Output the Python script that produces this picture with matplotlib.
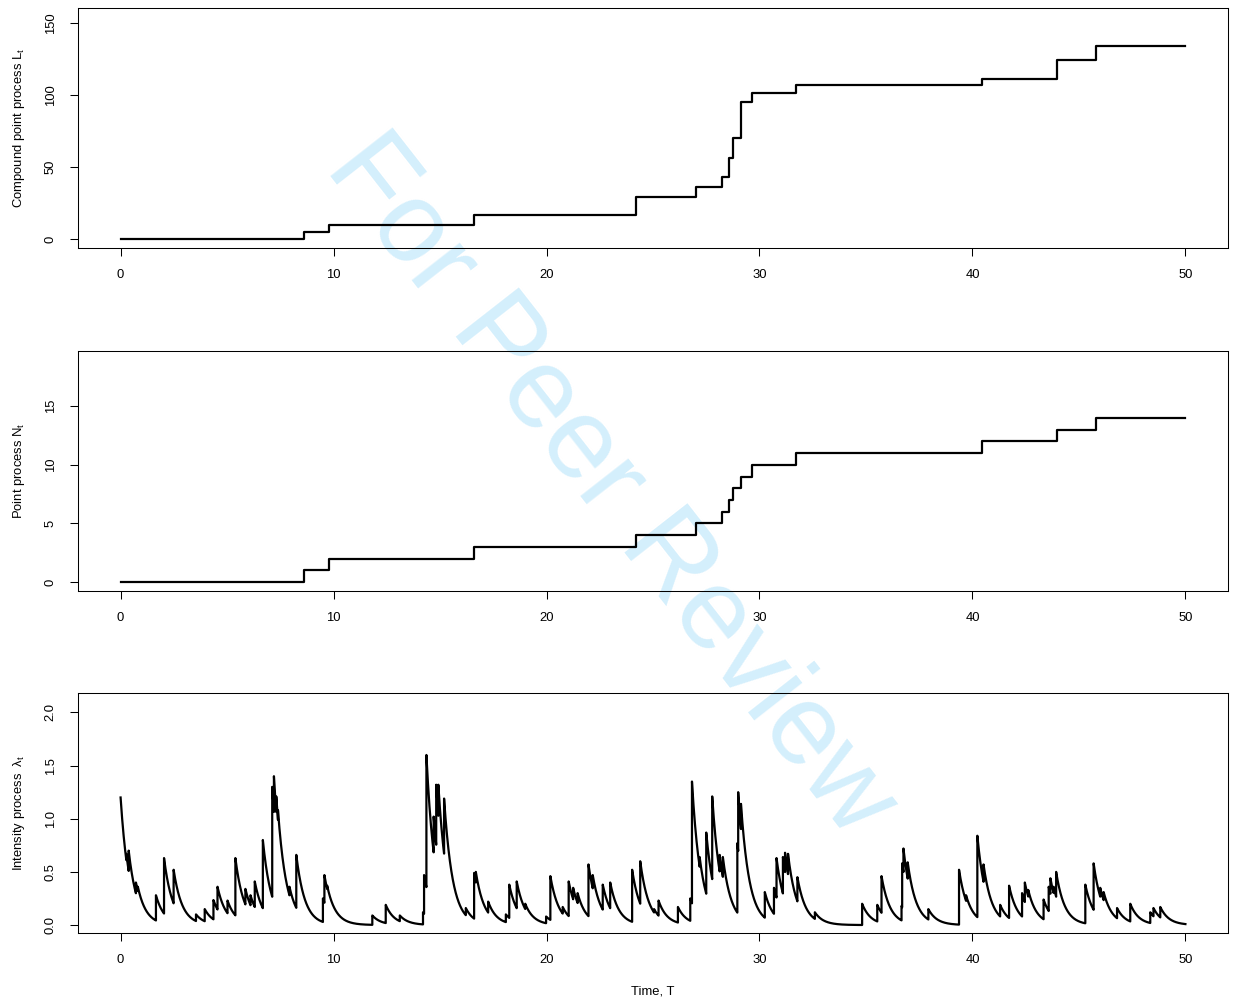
import numpy as np
import matplotlib
matplotlib.use("Agg")
import matplotlib.pyplot as plt

plt.rcParams['font.family'] = ['Liberation Sans', 'DejaVu Sans']
plt.rcParams['mathtext.fontset'] = 'custom'
plt.rcParams['mathtext.rm'] = 'Liberation Sans'
plt.rcParams['mathtext.it'] = 'Liberation Sans'

# ---------------- data ----------------
T_END = 50.0
# jump times of the point process N_t
event_times = [8.6, 9.8, 16.6, 24.2, 27.03, 28.22, 28.58, 28.74, 29.12, 29.65,
               31.73, 40.45, 43.98, 45.8]
# compound process L_t levels after each event
L_levels = [5, 10, 17, 29, 36, 43, 56, 70, 95, 101, 107, 111, 124, 134]
# point process N_t levels after each event
N_levels = list(range(1, 15))

# intensity process: initial value, decay rate, jump times and post-jump levels
lambda0 = 1.20
decay = 2.5
lam_jump_times = [0.27, 0.38, 0.72, 0.81, 1.66, 2.04, 2.49, 3.54, 3.95, 4.36,
                  4.55, 5.02, 5.39, 5.86, 6.10, 6.30, 6.68, 7.12, 7.20, 7.31,
                  7.39, 7.93, 8.25, 9.50, 9.57, 9.70, 11.82, 12.45, 13.11, 14.20,
                  14.25, 14.36, 14.70, 14.82, 14.92, 15.19, 16.21, 16.60, 16.68, 17.26,
                  18.09, 18.25, 18.60, 19.00, 19.98, 20.18, 20.76, 21.04, 21.25, 21.46,
                  21.97, 22.17, 22.64, 22.99, 24.02, 24.40, 25.05, 25.26, 26.17, 26.75,
                  26.83, 27.19, 27.50, 27.78, 28.13, 28.28, 28.96, 29.00, 29.13, 30.25,
                  30.68, 30.80, 31.10, 31.20, 31.34, 31.78, 32.60, 34.82, 35.53, 35.73,
                  36.67, 36.70, 36.76, 36.96, 37.93, 39.37, 39.70, 40.23, 40.52, 41.30,
                  41.72, 42.33, 42.46, 42.62, 43.34, 43.58, 43.66, 43.81, 43.93, 45.30,
                  45.69, 46.00, 46.16, 46.79, 47.41, 48.35, 48.50, 48.82]
lam_post_levels = [0.67, 0.70, 0.40, 0.36, 0.28, 0.63, 0.52, 0.10, 0.15, 0.235,
                   0.36, 0.23, 0.63, 0.34, 0.28, 0.41, 0.80, 1.30, 1.40, 1.21,
                   1.08, 0.36, 0.66, 0.25, 0.47, 0.37, 0.09, 0.19, 0.09, 0.12,
                   0.47, 1.60, 1.02, 1.32, 1.32, 1.19, 0.16, 0.49, 0.50, 0.22,
                   0.10, 0.38, 0.41, 0.20, 0.08, 0.46, 0.17, 0.41, 0.35, 0.30,
                   0.57, 0.47, 0.38, 0.40, 0.52, 0.60, 0.15, 0.23, 0.17, 0.25,
                   1.35, 0.64, 0.87, 1.21, 0.66, 0.64, 0.77, 1.25, 1.14, 0.31,
                   0.35, 0.63, 0.64, 0.68, 0.67, 0.45, 0.12, 0.20, 0.19, 0.46,
                   0.18, 0.58, 0.72, 0.59, 0.15, 0.52, 0.28, 0.84, 0.57, 0.19,
                   0.37, 0.30, 0.40, 0.33, 0.24, 0.36, 0.44, 0.36, 0.50, 0.38,
                   0.58, 0.35, 0.31, 0.16, 0.20, 0.12, 0.16, 0.17]

x_ticks = [0, 10, 20, 30, 40, 50]
L_ticks = [0, 50, 100, 150]
N_ticks = [0, 5, 10, 15]
lam_ticks = [0.0, 0.5, 1.0, 1.5, 2.0]

# ---------------- build paths ----------------
step_t = np.concatenate([[0.0], event_times, [T_END]])
L_y = np.concatenate([[0], L_levels, [L_levels[-1]]])
N_y = np.concatenate([[0], N_levels, [N_levels[-1]]])

starts = [0.0] + lam_jump_times
levels = [lambda0] + lam_post_levels
ends = lam_jump_times + [T_END]
lt, ly = [], []
for s, e, v in zip(starts, ends, levels):
    tt = np.linspace(s, e, max(int((e - s) * 60), 3))
    lt.append(tt)
    ly.append(v * np.exp(-decay * (tt - s)))
lam_t = np.concatenate(lt)
lam_y = np.concatenate(ly)

# ---------------- figure ----------------
W, H = 1233, 1002
fig = plt.figure(figsize=(W / 100, H / 100), dpi=100)

left = 78 / W
width = 1150 / W
hgt = 240 / H
bottoms = [(H - 248) / H, (H - 591) / H, (H - 933) / H]

fig.text(610 / W, 1 - 487 / H, "For Peer Review", rotation=-52,
         rotation_mode='anchor', ha='center', va='center',
         fontsize=82.5, color='#d4effc', zorder=-5)

axes = [fig.add_axes([left, b, width, hgt]) for b in bottoms]

fs = 9.4
lw = 1.6

def style(ax, yticks, fmt):
    ax.set_facecolor('none')
    ax.set_xlim(-2, 52)
    ax.set_xticks(x_ticks)
    ax.set_xticklabels([str(v) for v in x_ticks])
    ax.set_yticks(yticks)
    ax.set_yticklabels([fmt(v) for v in yticks])
    ax.tick_params(direction='out', length=5.8, width=0.75, pad=9.6,
                   labelsize=fs, color='black')
    for lbl in ax.get_yticklabels():
        lbl.set_rotation(90)
        lbl.set_va('center')
    for sp in ax.spines.values():
        sp.set_linewidth(0.75)
        sp.set_color('black')

ax1, ax2, ax3 = axes
ax1.step(step_t, L_y, where='post', color='black', lw=lw)
ax1.set_ylim(-6.2, 160.2)
style(ax1, L_ticks, lambda v: str(v))
ax1.set_ylabel(r"Compound point process $\mathrm{L}_\mathrm{t}$", fontsize=fs)

ax2.step(step_t, N_y, where='post', color='black', lw=lw)
ax2.set_ylim(-0.76, 19.7)
style(ax2, N_ticks, lambda v: str(v))
ax2.set_ylabel(r"Point process $\mathrm{N}_\mathrm{t}$", fontsize=fs)

ax3.plot(lam_t, lam_y, color='black', lw=lw)
ax3.set_ylim(-0.075, 2.183)
style(ax3, lam_ticks, lambda v: f"{v:.1f}")
ax3.set_ylabel(r"Intensity process  $\lambda_\mathrm{t}$", fontsize=fs)
ax3.set_xlabel("Time, T", fontsize=fs)
ax3.xaxis.set_label_coords(0.5, -(992 - 933) / 240)
ax3.xaxis.label.set_va('center')

for ax in axes:
    ax.yaxis.set_label_coords((18.5 - 78) / 1150, 0.5)
    ax.yaxis.label.set_va('center')

fig.savefig("out.png", dpi=100)
